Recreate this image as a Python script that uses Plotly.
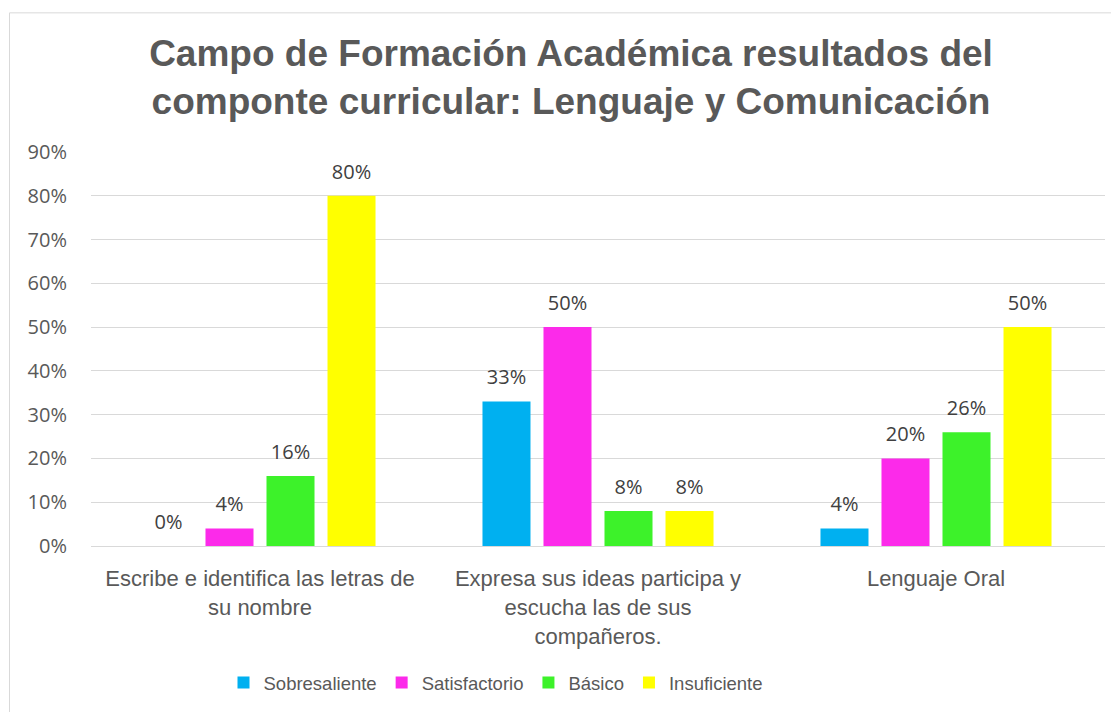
import plotly.graph_objects as go

categories = [
    "Escribe e identifica las letras de<br>su nombre",
    "Expresa sus ideas participa y<br>escucha las de sus<br>compañeros.",
    "Lenguaje Oral",
]
series_names = ["Sobresaliente", "Satisfactorio", "Básico", "Insuficiente"]
sobresaliente = [0.00, 0.33, 0.04]
satisfactorio = [0.04, 0.50, 0.20]
basico = [0.16, 0.08, 0.26]
insuficiente = [0.80, 0.08, 0.50]
y_ticks = [0, 0.1, 0.2, 0.3, 0.4, 0.5, 0.6, 0.7, 0.8, 0.9]

colors = ["#00B0F0", "#FC2AEA", "#3DF22A", "#FFFF00"]
values = [sobresaliente, satisfactorio, basico, insuficiente]

# the page body adds an 8px margin; figure is sized to fill the rest
OFF = 8
W, H = 1119 - OFF, 712 - OFF
L, R, T, B = 91 - OFF, 14, 152 - OFF, 712 - 547
pw = W - L - R
ph = H - T - B


def px_x(page_x):
    return (page_x - OFF - L) / pw


def px_y(page_y):
    return (H - B - (page_y - OFF)) / ph


fig = go.Figure()
for name, vals, col in zip(series_names, values, colors):
    fig.add_trace(go.Bar(
        x=categories, y=vals, name=name,
        marker=dict(color=col, line=dict(width=0)),
        offsetgroup=name,
        hoverinfo="skip",
    ))
for name, vals, col in zip(series_names, values, colors):
    fig.add_trace(go.Scatter(
        x=categories, y=vals, mode="markers+text",
        text=[f"{round(v*100)}%" for v in vals],
        textposition="top center",
        textfont=dict(family="Open Sans, sans-serif", size=20, color="#404040"),
        marker=dict(size=18, opacity=0),
        offsetgroup=name,
        showlegend=False, hoverinfo="skip", cliponaxis=False,
    ))

fig.update_layout(
    width=W, height=H,
    margin=dict(l=L, r=R, t=T, b=B, pad=0),
    paper_bgcolor="white", plot_bgcolor="white",
    barmode="group", bargap=0.278, bargroupgap=0.213,
    scattermode="group", scattergap=0.278,
    title=dict(
        text="Campo de Formación Académica resultados del<br>componte curricular: Lenguaje y Comunicación",
        x=(571 - OFF) / W, xanchor="center", xref="container",
        y=1 - 58 / H, yanchor="top", yref="container",
        font=dict(family="Liberation Sans, Arial, sans-serif", size=37, color="#595959", weight="bold"),
    ),
    xaxis=dict(
        showgrid=False, showline=True, linecolor="#D9D9D9", linewidth=1,
        ticks="", tickfont=dict(family="Liberation Sans, Arial, sans-serif", size=22, color="#595959"),
        zeroline=False, ticklabelstandoff=13,
    ),
    yaxis=dict(
        range=[0, 0.9], tickvals=y_ticks, tickformat=".0%",
        showgrid=True, gridcolor="#D9D9D9", gridwidth=1,
        showline=False, zeroline=False, ticks="",
        tickfont=dict(family="Open Sans, sans-serif", size=20, color="#595959"),
        ticklabelstandoff=23,
    ),
    legend=dict(
        orientation="h", x=px_x(496), xanchor="center",
        y=px_y(683), yanchor="middle",
        font=dict(family="Liberation Sans, Arial, sans-serif", size=18.5, color="#595959"),
        traceorder="normal", itemclick=False, itemdoubleclick=False,
    ),
    showlegend=True,
    shapes=[dict(
        type="rect", xref="paper", yref="paper",
        x0=px_x(9.5), x1=px_x(1135),
        y0=px_y(730), y1=px_y(12.5),
        line=dict(color="#D9D9D9", width=1), fillcolor="rgba(0,0,0,0)", layer="below",
    )],
)

fig.write_html("out.html")
